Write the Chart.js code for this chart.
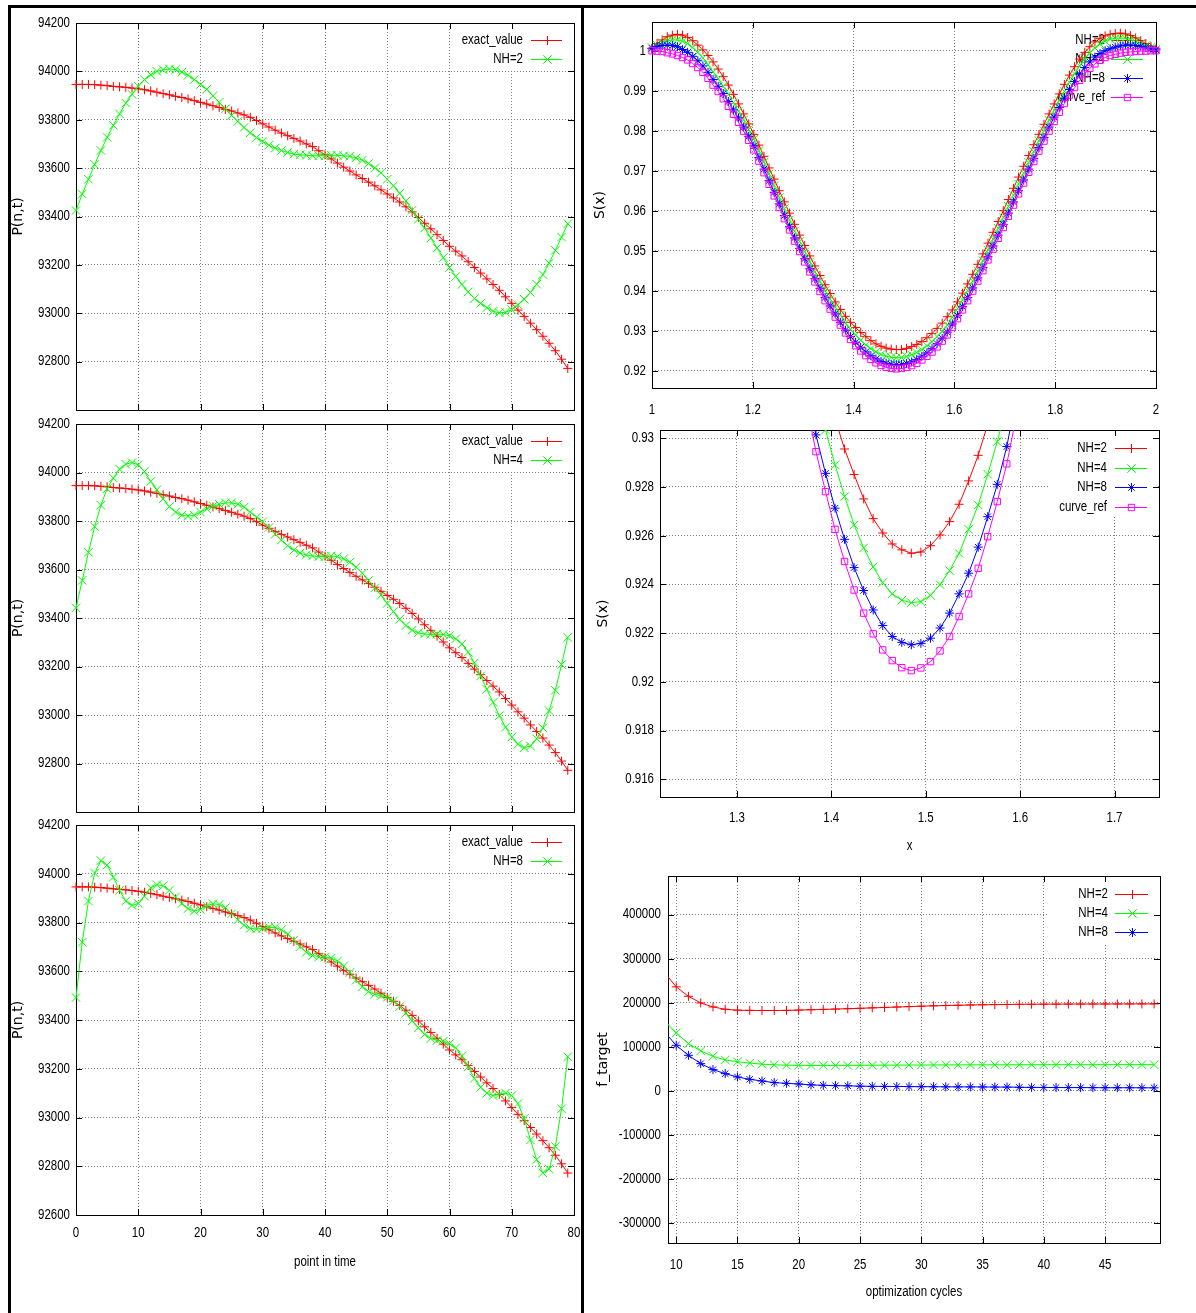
<!DOCTYPE html>
<html>
<head>
<meta charset="utf-8">
<title>P(n,t), S(x) and f_target for NH=2/4/8</title>
<script src="https://cdn.jsdelivr.net/npm/chart.js@4.4.1/dist/chart.umd.min.js"></script>
<style>
  html, body { margin: 0; padding: 0; background: #fff; }
  #page { position: relative; width: 1196px; height: 1313px; overflow: hidden; background: #fff; }
  #page canvas { position: absolute; }
  .rule { position: absolute; background: #000; z-index: 5; }
</style>
</head>
<body>
<div id="page">
  <div class="rule" style="left:8px; top:5px; width:1188px; height:3px"></div>
  <div class="rule" style="left:8px; top:5px; width:3px; height:1308px"></div>
  <div class="rule" style="left:581px; top:5px; width:3px; height:1308px"></div>
</div>
<script>
// ==================== DATA: P(n,t), left column ====================

const timePoints = [0, 1, 2, 3, 4, 5, 6, 7, 8, 9, 10, 11, 12, 13, 14, 15, 16, 17, 18, 19,
  20, 21, 22, 23, 24, 25, 26, 27, 28, 29, 30, 31, 32, 33, 34, 35, 36, 37, 38, 39,
  40, 41, 42, 43, 44, 45, 46, 47, 48, 49, 50, 51, 52, 53, 54, 55, 56, 57, 58, 59,
  60, 61, 62, 63, 64, 65, 66, 67, 68, 69, 70, 71, 72, 73, 74, 75, 76, 77, 78, 79];

const exactValue = [93946, 93946, 93946, 93945, 93943, 93941, 93938, 93936, 93934, 93931,
  93928, 93924, 93919, 93914, 93908, 93903, 93897, 93892, 93886, 93879,
  93872, 93865, 93858, 93851, 93843, 93836, 93828, 93820, 93810, 93797,
  93783, 93770, 93757, 93745, 93734, 93723, 93712, 93700, 93689, 93672,
  93655, 93638, 93621, 93604, 93588, 93572, 93557, 93542, 93527, 93510,
  93493, 93477, 93460, 93440, 93419, 93396, 93372, 93349, 93325, 93301,
  93277, 93257, 93237, 93213, 93189, 93166, 93142, 93119, 93095, 93068,
  93041, 93013, 92987, 92959, 92932, 92905, 92876, 92845, 92810, 92772];

const nh2Pressure = [93425, 93493, 93554, 93615, 93673, 93727, 93777, 93824, 93869, 93905,
  93939, 93966, 93986, 94000, 94007, 94010, 94007, 93997, 93984, 93966,
  93946, 93926, 93899, 93872, 93845, 93818, 93793, 93768, 93746, 93726,
  93710, 93695, 93683, 93673, 93665, 93658, 93655, 93653, 93651, 93651,
  93651, 93653, 93653, 93651, 93649, 93642, 93633, 93619, 93601, 93581,
  93554, 93527, 93496, 93464, 93426, 93389, 93352, 93311, 93270, 93230,
  93189, 93152, 93119, 93088, 93061, 93041, 93023, 93008, 93002, 93004,
  93015, 93035, 93058, 93086, 93120, 93160, 93207, 93260, 93315, 93370];

const nh4Pressure = [93442, 93555, 93671, 93777, 93865, 93933, 93977, 94014, 94034, 94041,
  94031, 94004, 93963, 93929, 93891, 93859, 93837, 93824, 93820, 93824,
  93837, 93850, 93861, 93869, 93875, 93875, 93869, 93857, 93837, 93816,
  93797, 93773, 93746, 93721, 93698, 93680, 93668, 93660, 93656, 93653,
  93653, 93656, 93653, 93644, 93630, 93610, 93585, 93555, 93524, 93494,
  93460, 93426, 93395, 93369, 93350, 93339, 93334, 93332, 93334, 93332,
  93327, 93314, 93293, 93259, 93215, 93161, 93106, 93052, 92997, 92950,
  92909, 92879, 92865, 92872, 92902, 92947, 93018, 93102, 93208, 93320];

const nh8Pressure = [93492, 93719, 93888, 94003, 94054, 94036, 93986, 93932, 93888, 93870,
  93878, 93908, 93942, 93955, 93951, 93932, 93905, 93878, 93857, 93847,
  93854, 93868, 93877, 93874, 93861, 93836, 93811, 93789, 93776, 93773,
  93776, 93780, 93780, 93770, 93753, 93728, 93701, 93678, 93665, 93659,
  93658, 93654, 93642, 93622, 93595, 93563, 93536, 93516, 93505, 93500,
  93493, 93478, 93455, 93428, 93397, 93368, 93341, 93324, 93316, 93313,
  93303, 93286, 93253, 93208, 93161, 93124, 93100, 93090, 93095, 93100,
  93090, 93057, 92996, 92908, 92827, 92773, 92789, 92881, 93036, 93249];

const pressureTicks = [92600, 92800, 93000, 93200, 93400, 93600, 93800, 94000, 94200];
const timeTicks = [0, 10, 20, 30, 40, 50, 60, 70, 80];

// ==================== DATA: S(x), top and middle right ====================

const xGrid = [1.0000, 1.0101, 1.0202, 1.0303, 1.0404, 1.0505, 1.0606, 1.0707, 1.0808, 1.0909,
  1.1010, 1.1111, 1.1212, 1.1313, 1.1414, 1.1515, 1.1616, 1.1717, 1.1818, 1.1919,
  1.2020, 1.2121, 1.2222, 1.2323, 1.2424, 1.2525, 1.2626, 1.2727, 1.2828, 1.2929,
  1.3030, 1.3131, 1.3232, 1.3333, 1.3434, 1.3535, 1.3636, 1.3737, 1.3838, 1.3939,
  1.4040, 1.4141, 1.4242, 1.4343, 1.4444, 1.4545, 1.4646, 1.4747, 1.4848, 1.4949,
  1.5051, 1.5152, 1.5253, 1.5354, 1.5455, 1.5556, 1.5657, 1.5758, 1.5859, 1.5960,
  1.6061, 1.6162, 1.6263, 1.6364, 1.6465, 1.6566, 1.6667, 1.6768, 1.6869, 1.6970,
  1.7071, 1.7172, 1.7273, 1.7374, 1.7475, 1.7576, 1.7677, 1.7778, 1.7879, 1.7980,
  1.8081, 1.8182, 1.8283, 1.8384, 1.8485, 1.8586, 1.8687, 1.8788, 1.8889, 1.8990,
  1.9091, 1.9192, 1.9293, 1.9394, 1.9495, 1.9596, 1.9697, 1.9798, 1.9899, 2.0000];

const sNH2 = [1.0005, 1.0018, 1.0027, 1.0035, 1.0039, 1.0041, 1.0039, 1.0033, 1.0025, 1.0014,
  1.0002, 0.9988, 0.9972, 0.9954, 0.9935, 0.9914, 0.9891, 0.9867, 0.9842, 0.9817,
  0.9791, 0.9764, 0.9736, 0.9707, 0.9679, 0.9650, 0.9622, 0.9594, 0.9566, 0.9539,
  0.9513, 0.9487, 0.9462, 0.9438, 0.9415, 0.9393, 0.9372, 0.9353, 0.9336, 0.9321,
  0.9308, 0.92956, 0.92851, 0.92751, 0.92670, 0.92611, 0.92566, 0.92542, 0.92528, 0.92533,
  0.92559, 0.92603, 0.92658, 0.92729, 0.92825, 0.92930, 0.93058, 0.9319, 0.9335, 0.9352,
  0.9372, 0.9394, 0.9417, 0.9441, 0.9466, 0.9492, 0.9519, 0.9546, 0.9573, 0.9600,
  0.9628, 0.9656, 0.9684, 0.9711, 0.9738, 0.9765, 0.9791, 0.9816, 0.9842, 0.9867,
  0.9892, 0.9916, 0.9939, 0.9960, 0.9979, 0.9996, 1.0010, 1.0022, 1.0031, 1.0037,
  1.0041, 1.0043, 1.0044, 1.0042, 1.0038, 1.0032, 1.0025, 1.0018, 1.0011, 1.0005];

const sNH4 = [1.0008, 1.0014, 1.0020, 1.0025, 1.0027, 1.0027, 1.0024, 1.0018, 1.0008, 0.9996,
  0.9982, 0.9965, 0.9947, 0.9930, 0.9911, 0.9891, 0.9870, 0.9849, 0.9827, 0.9803,
  0.9779, 0.9750, 0.9721, 0.9692, 0.9663, 0.9633, 0.9605, 0.9577, 0.9549, 0.9523,
  0.9497, 0.9472, 0.9447, 0.9423, 0.9400, 0.9379, 0.9359, 0.9339, 0.93195, 0.93034,
  0.92891, 0.92761, 0.92644, 0.92550, 0.92472, 0.92407, 0.92361, 0.92335, 0.92325, 0.92329,
  0.92355, 0.92399, 0.92457, 0.92527, 0.92626, 0.92726, 0.92852, 0.92986, 0.93140, 0.9334,
  0.9355, 0.9377, 0.9400, 0.9424, 0.9449, 0.9475, 0.9502, 0.9529, 0.9556, 0.9583,
  0.9611, 0.9639, 0.9667, 0.9694, 0.9721, 0.9748, 0.9775, 0.9800, 0.9826, 0.9851,
  0.9875, 0.9898, 0.9921, 0.9942, 0.9962, 0.9980, 0.9995, 1.0007, 1.0017, 1.0024,
  1.0029, 1.0031, 1.0032, 1.0031, 1.0028, 1.0023, 1.0018, 1.0013, 1.0008, 1.0004];

const sNH8 = [1.0006, 1.0010, 1.0013, 1.0014, 1.0013, 1.0010, 1.0003, 0.9996, 0.9986, 0.9975,
  0.9962, 0.9946, 0.9928, 0.9911, 0.9893, 0.9873, 0.9852, 0.9832, 0.9809, 0.9786,
  0.9762, 0.9733, 0.9704, 0.9675, 0.9646, 0.9617, 0.9588, 0.9560, 0.9532, 0.9506,
  0.9480, 0.9455, 0.9430, 0.9406, 0.9383, 0.9362, 0.9342, 0.9321, 0.93014, 0.92856,
  0.92713, 0.92585, 0.92469, 0.92375, 0.92295, 0.92231, 0.92186, 0.92162, 0.92152, 0.92158,
  0.92179, 0.92221, 0.92282, 0.92361, 0.92446, 0.92553, 0.92678, 0.92811, 0.92966, 0.9317,
  0.9338, 0.9360, 0.9383, 0.9407, 0.9432, 0.9458, 0.9485, 0.9512, 0.9539, 0.9566,
  0.9594, 0.9622, 0.9650, 0.9677, 0.9704, 0.9731, 0.9758, 0.9783, 0.9809, 0.9834,
  0.9858, 0.9881, 0.9903, 0.9923, 0.9942, 0.9958, 0.9972, 0.9984, 0.9993, 1.0000,
  1.0005, 1.0009, 1.0012, 1.0014, 1.0014, 1.0013, 1.0011, 1.0008, 1.0005, 1.0002];

const sRef = [1.0000, 0.9999, 0.9998, 0.9995, 0.9992, 0.9988, 0.9983, 0.9977, 0.9968, 0.9958,
  0.9946, 0.9931, 0.9914, 0.9898, 0.9880, 0.9861, 0.9841, 0.9821, 0.9799, 0.9776,
  0.9752, 0.9724, 0.9695, 0.9666, 0.9637, 0.9608, 0.9580, 0.9552, 0.9524, 0.9498,
  0.9472, 0.9447, 0.9422, 0.9398, 0.9375, 0.9354, 0.9334, 0.9314, 0.92945, 0.92781,
  0.92626, 0.92494, 0.92377, 0.92282, 0.92197, 0.92131, 0.92087, 0.92058, 0.92046, 0.92057,
  0.92083, 0.92127, 0.92186, 0.92268, 0.92361, 0.92466, 0.92596, 0.92740, 0.92895, 0.9309,
  0.9330, 0.9352, 0.9375, 0.9399, 0.9424, 0.9450, 0.9477, 0.9504, 0.9531, 0.9558,
  0.9586, 0.9614, 0.9642, 0.9669, 0.9696, 0.9723, 0.9749, 0.9774, 0.9799, 0.9823,
  0.9846, 0.9868, 0.9889, 0.9908, 0.9926, 0.9942, 0.9956, 0.9967, 0.9976, 0.9983,
  0.9988, 0.9991, 0.9994, 0.9996, 0.9997, 0.9998, 0.9999, 0.9999, 1.0000, 1.0000];

const xTicksWide = [1, 1.2, 1.4, 1.6, 1.8, 2];
const sTicksWide = [0.92, 0.93, 0.94, 0.95, 0.96, 0.97, 0.98, 0.99, 1];
const xTicksZoom = [1.3, 1.4, 1.5, 1.6, 1.7];
const sTicksZoom = [0.916, 0.918, 0.92, 0.922, 0.924, 0.926, 0.928, 0.93];

// ==================== DATA: f_target, bottom right ====================

const cycles = [9, 10, 11, 12, 13, 14, 15, 16, 17, 18, 19, 20, 21, 22, 23, 24, 25, 26, 27, 28,
  29, 30, 31, 32, 33, 34, 35, 36, 37, 38, 39, 40, 41, 42, 43, 44, 45, 46, 47, 48, 49];

const fNH2 = [270000, 236000, 214500, 199500, 190400, 185100, 183000, 182600, 182300, 182300,
  182600, 183300, 184000, 184800, 185600, 186400, 187300, 188300, 189200, 190200,
  191200, 192100, 192900, 193600, 194200, 194800, 195300, 195700, 196000, 196300,
  196500, 196700, 196800, 196900, 197000, 197100, 197100, 197200, 197200, 197300, 197300];

const fNH4 = [160000, 131500, 107000, 90500, 78400, 70000, 66000, 63000, 60500, 59000,
  58200, 57800, 57600, 57600, 57700, 57800, 57900, 58100, 58200, 58400,
  58500, 58600, 58700, 58800, 58900, 59000, 59000, 59100, 59100, 59200,
  59200, 59200, 59300, 59300, 59300, 59300, 59300, 59400, 59400, 59400, 59400];

const fNH8 = [135000, 103300, 80600, 61700, 48100, 39000, 31400, 26100, 22400, 18600,
  17000, 15500, 13500, 12500, 11800, 11400, 10500, 10200, 10000, 9800,
  9600, 9400, 9300, 9100, 9000, 8900, 8800, 8600, 8500, 8000,
  7800, 7600, 7500, 7400, 7300, 7200, 7100, 7000, 7000, 6900, 6800];

const cycleTicks = [10, 15, 20, 25, 30, 35, 40, 45];
const fTicks = [-300000, -200000, -100000, 0, 100000, 200000, 300000, 400000];

// ==================== STYLE ====================

const SANS = "'Liberation Sans', Arial, sans-serif";
const WIDE = "'DejaVu Sans', 'Liberation Sans', sans-serif";
const RED = '#ff0000', GREEN = '#00ff00', BLUE = '#0000ff', MAGENTA = '#ff00ff';
const PAD_T = 20, PAD_R = 24, PAD_B = 12, TICK = 6;
const SQUEEZE = 0.82;   // the original picture is squeezed sideways

Chart.defaults.font.family = SANS;
Chart.defaults.font.size = 14;
Chart.defaults.color = '#000';

// horizontal text is drawn narrower, rotated text is left alone
const squeezeText = {
    id: 'squeezeText',
    beforeInit(chart) {
        const ctx = chart.ctx;
        const nativeFill = ctx.fillText.bind(ctx);
        ctx.fillText = (text, x, y, maxWidth) => {
            const m = ctx.getTransform();
            if (Math.abs(m.b) > 1e-6) return nativeFill(text, x, y, maxWidth);
            let w = ctx.measureText(text).width * SQUEEZE;
            if (maxWidth !== undefined) w = Math.min(w, maxWidth);
            return nativeFill(text, x, y, Math.max(w, 0.1));
        };
    }
};

function markerPath(ctx, style, r, x, y) {
    const d = r * Math.SQRT1_2;
    ctx.beginPath();
    if (style === 'cross' || style === 'star') {
        ctx.moveTo(x - r, y); ctx.lineTo(x + r, y);
        ctx.moveTo(x, y - r); ctx.lineTo(x, y + r);
    }
    if (style === 'crossRot' || style === 'star') {
        ctx.moveTo(x - d, y - d); ctx.lineTo(x + d, y + d);
        ctx.moveTo(x - d, y + d); ctx.lineTo(x + d, y - d);
    }
    if (style === 'rect') {
        ctx.rect(x - d, y - d, 2 * d, 2 * d);
    }
    ctx.stroke();
}

function drawKey(chart, key) {
    const { ctx, chartArea: a } = chart;
    ctx.save();
    ctx.setLineDash([]);
    ctx.font = '14px ' + SANS;
    ctx.textAlign = 'right';
    ctx.textBaseline = 'middle';
    key.items.forEach((it, i) => {
        const y = Math.round(a.top + key.rowTop + i * key.rowGap) + 0.5;
        ctx.fillStyle = '#000';
        ctx.fillText(it.label, a.right - key.textRight, y);
        ctx.strokeStyle = it.color;
        ctx.lineWidth = 1;
        ctx.beginPath();
        ctx.moveTo(a.right - key.lineFrom, y);
        ctx.lineTo(a.right - key.lineTo, y);
        ctx.stroke();
        markerPath(ctx, it.style, it.radius,
            Math.round(a.right - (key.lineFrom + key.lineTo) / 2) + 0.5, y);
    });
    ctx.restore();
}

// gnuplot look: blank key box, solid frame with inward ticks, key entries
const gnuplotLook = {
    id: 'gnuplotLook',
    beforeDatasetsDraw(chart, args, opts) {
        const { ctx, chartArea: a } = chart;
        const key = opts.key;
        ctx.save();
        ctx.setLineDash([]);

        if (key) {
            ctx.fillStyle = '#fff';
            ctx.fillRect(a.right - key.boxW, a.top + 1, key.boxW - 1, key.boxH);
        }

        ctx.strokeStyle = '#000';
        ctx.lineWidth = 1;
        ctx.strokeRect(Math.round(a.left) + 0.5, Math.round(a.top) + 0.5,
            Math.round(a.right - a.left), Math.round(a.bottom - a.top));

        const xs = chart.scales.x, ys = chart.scales.y;
        ctx.beginPath();
        xs.ticks.forEach(t => {
            const px = Math.round(xs.getPixelForValue(t.value)) + 0.5;
            ctx.moveTo(px, a.bottom); ctx.lineTo(px, a.bottom - TICK);
            ctx.moveTo(px, a.top); ctx.lineTo(px, a.top + TICK);
        });
        ys.ticks.forEach(t => {
            const py = Math.round(ys.getPixelForValue(t.value)) + 0.5;
            ctx.moveTo(a.left, py); ctx.lineTo(a.left + TICK, py);
            ctx.moveTo(a.right, py); ctx.lineTo(a.right - TICK, py);
        });
        ctx.stroke();
        ctx.restore();

        if (key && key.under) drawKey(chart, key);
    },
    afterDraw(chart, args, opts) {
        if (opts.key && !opts.key.under) drawKey(chart, opts.key);
    }
};

function curve(label, xs, ys, color, style, radius, idx) {
    return {
        label,
        data: xs.map((x, i) => ({ x, y: ys[i] })),
        borderColor: color,
        backgroundColor: 'rgba(0,0,0,0)',
        borderWidth: 1,
        tension: 0,
        fill: false,
        pointStyle: style,
        pointRadius: radius,
        pointHoverRadius: radius,
        pointBorderColor: color,
        pointBackgroundColor: 'rgba(0,0,0,0)',
        pointBorderWidth: 1,
        order: -idx
    };
}

function axis(a, dir, size) {
    return {
        type: 'linear',
        min: a.min,
        max: a.max,
        afterBuildTicks: scale => { scale.ticks = a.ticks.map(v => ({ value: v })); },
        afterFit: scale => { if (dir === 'x') scale.height = size; else scale.width = size; },
        ticks: {
            display: a.labels !== false,
            padding: a.pad,
            autoSkip: false,
            maxRotation: 0,
            callback: v => (a.hide && a.hide.includes(v)) ? '' : String(v)
        },
        grid: { color: '#808080', lineWidth: 1, drawTicks: false },
        border: { display: false, dash: [1, 2] },
        title: a.title
            ? { display: true, text: a.title, padding: 0,
                font: { family: dir === 'y' ? WIDE : SANS, size: 14 } }
            : { display: false }
    };
}

function makePanel(box, opts) {
    const page = document.getElementById('page');
    const cv = document.createElement('canvas');
    const w = opts.yW + (box.r - box.l) + PAD_R;
    const h = PAD_T + (box.b - box.t) + opts.xH + PAD_B;
    cv.width = w;
    cv.height = h;
    cv.style.width = w + 'px';
    cv.style.height = h + 'px';
    cv.style.left = (box.l - opts.yW) + 'px';
    cv.style.top = (box.t - PAD_T) + 'px';
    page.insertBefore(cv, page.firstChild);

    const datasets = opts.series.map((s, i) => {
        const d = curve(s[0], opts.xs, s[1], s[2], s[3], s[4], i);
        d.clip = opts.clip;
        return d;
    });
    const key = Object.assign({}, opts.key, {
        items: opts.series.map(s => ({ label: s[0], color: s[2], style: s[3], radius: s[4] }))
    });

    return new Chart(cv, {
        type: 'line',
        data: { datasets },
        options: {
            responsive: false,
            animation: false,
            events: [],
            layout: { padding: { top: PAD_T, right: PAD_R, bottom: PAD_B, left: 0 } },
            plugins: {
                legend: { display: false },
                tooltip: { enabled: false },
                gnuplotLook: { key }
            },
            scales: {
                x: axis(opts.x, 'x', opts.xH),
                y: axis(opts.y, 'y', opts.yW)
            }
        },
        plugins: [squeezeText, gnuplotLook]
    });
}

// ==================== PANELS ====================

const leftKey = { boxW: 120, boxH: 46, rowTop: 17, rowGap: 19, textRight: 51, lineFrom: 43, lineTo: 12 };

const leftPanels = [
    { box: { l: 76, t: 23, r: 574, b: 410 }, label: 'NH=2', values: nh2Pressure, last: false },
    { box: { l: 76, t: 424, r: 574, b: 812 }, label: 'NH=4', values: nh4Pressure, last: false },
    { box: { l: 76, t: 825, r: 574, b: 1215 }, label: 'NH=8', values: nh8Pressure, last: true }
];

leftPanels.forEach(p => {
    makePanel(p.box, {
        yW: 66,
        xH: p.last ? 56 : 4,
        xs: timePoints,
        clip: false,
        series: [
            ['exact_value', exactValue, RED, 'cross', 4.5],
            [p.label, p.values, GREEN, 'crossRot', 6]
        ],
        x: { min: 0, max: 80, ticks: timeTicks, labels: p.last, pad: 10,
             title: p.last ? 'point in time' : null },
        y: { min: 92600, max: 94200, ticks: pressureTicks, pad: 6,
             hide: p.last ? [] : [92600], title: 'P(n,t)' },
        key: leftKey
    });
});

const sSeries = [
    ['NH=2', sNH2, RED, 'cross', 4.5],
    ['NH=4', sNH4, GREEN, 'crossRot', 6],
    ['NH=8', sNH8, BLUE, 'star', 4.5],
    ['curve_ref', sRef, MAGENTA, 'rect', 4.5]
];

makePanel({ l: 652, t: 22, r: 1156, b: 388 }, {
    yW: 60, xH: 32, xs: xGrid, clip: false, series: sSeries,
    x: { min: 1, max: 2, ticks: xTicksWide, pad: 14 },
    y: { min: 0.91568, max: 1.00718, ticks: sTicksWide, pad: 6, title: 'S(x)' },
    key: { under: true, boxW: 109, boxH: 84, rowTop: 18, rowGap: 19, textRight: 51, lineFrom: 45, lineTo: 13 }
});

makePanel({ l: 660, t: 430, r: 1159, b: 797 }, {
    yW: 65, xH: 58, xs: xGrid, clip: 0, series: sSeries,
    x: { min: 1.2186, max: 1.7471, ticks: xTicksZoom, pad: 13, title: 'x' },
    y: { min: 0.91527, max: 0.93034, ticks: sTicksZoom, pad: 6, title: 'S(x)' },
    key: { boxW: 110, boxH: 86, rowTop: 18, rowGap: 19.5, textRight: 52, lineFrom: 44, lineTo: 12 }
});

makePanel({ l: 668, t: 876, r: 1160, b: 1243 }, {
    yW: 73, xH: 58, xs: cycles, clip: { left: 0, top: false, right: false, bottom: false },
    series: [
        ['NH=2', fNH2, RED, 'cross', 4.5],
        ['NH=4', fNH4, GREEN, 'crossRot', 6],
        ['NH=8', fNH8, BLUE, 'star', 4.5]
    ],
    x: { min: 9.33, max: 49.48, ticks: cycleTicks, pad: 14, title: 'optimization cycles' },
    y: { min: -345400, max: 487600, ticks: fTicks, pad: 7, title: 'f_target' },
    key: { boxW: 111, boxH: 66, rowTop: 17.5, rowGap: 19.3, textRight: 52, lineFrom: 45, lineTo: 12 }
});
</script>
</body>
</html>
